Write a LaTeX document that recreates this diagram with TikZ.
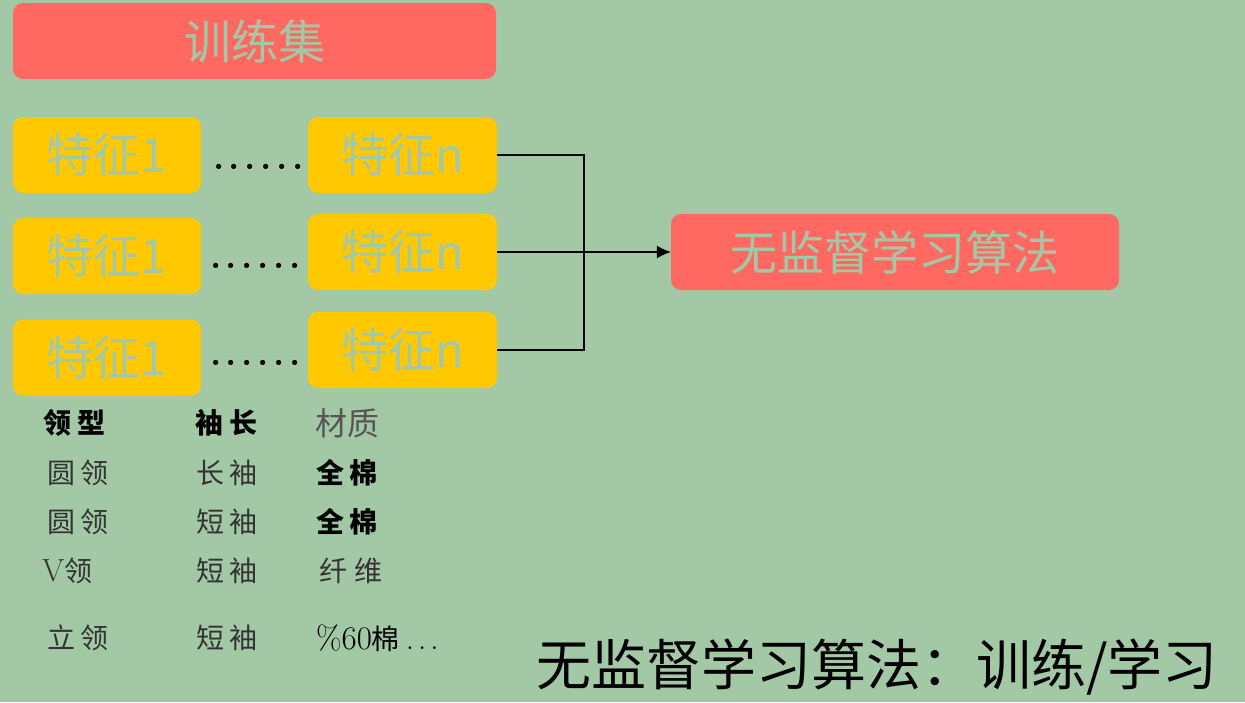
\documentclass[tikz,border=0pt]{standalone}
\usepackage{fontspec}
\usepackage{xcolor}
\usepackage{tikz}
\usetikzlibrary{positioning,arrows.meta}
\newfontfamily\cjk{Noto Sans CJK SC}
\definecolor{bggreen}{RGB}{163,200,166}
\definecolor{boxred}{RGB}{255,105,97}
\definecolor{boxyellow}{RGB}{255,200,0}
\definecolor{txtgrey}{RGB}{51,51,51}
\definecolor{headgrey}{RGB}{85,85,85}
\newcommand\featdots{.\kern4.5pt.\kern4.5pt.\kern4.5pt.\kern4.5pt.\kern4.5pt.}
\newcommand\celldots{.\kern4pt.\kern4pt.}
\tikzset{
  redbox/.style={fill=boxred, rounded corners=10pt, inner sep=0pt, minimum height=76pt,
    text=bggreen, font=\cjk\fontsize{47}{47}\selectfont},
  featbox/.style={fill=boxyellow, rounded corners=10pt, inner sep=0pt, minimum width=188pt,
    minimum height=76pt, text=bggreen, font=\cjk\fontsize{47}{47}\selectfont},
  dotrow/.style={font=\bfseries\fontsize{36}{36}\selectfont, inner sep=0pt, anchor=base west},
  cell/.style={font=\cjk\fontsize{28}{28}\selectfont, text=txtgrey, inner sep=0pt, anchor=west},
  cellbold/.style={cell, text=black, font=\cjk\bfseries\fontsize{28}{28}\selectfont},
}
\begin{document}
\begin{tikzpicture}[>={Latex[length=14pt,width=13pt]}, x=1pt, y=-1pt]
\useasboundingbox[fill=bggreen] (0,0) rectangle (1245,702);

\node[redbox, minimum width=483pt] (train) at (254.5,41) {训练集};

% feature rows
\node[featbox] (fa1) at (107,155) {特征1};
\node[featbox] (fa2) at (107,256) {特征1};
\node[featbox] (fa3) at (107,357.5) {特征1};
\node[featbox, minimum width=189pt] (fn1) at (402.5,155) {特征n};
\node[featbox, minimum width=189pt] (fn2) at (402.5,252) {特征n};
\node[featbox, minimum width=189pt] (fn3) at (402.5,350) {特征n};

\node[dotrow] (d1) at (213,169.5) {\featdots};
\node[dotrow] (d2) at (210,268.5) {\featdots};
\node[dotrow] (d3) at (210,365.5) {\featdots};

\node[redbox, minimum width=448pt] (algo) at (895,252) {无监督学习算法};

% connectors
\coordinate (join) at (584,252);
\draw[line width=1.2pt] (fn1.east) -| (join);
\draw[line width=1.2pt] (fn3.east) -| (join);
\draw[->, line width=1.2pt] (fn2.east) -- (algo.west);

% sample table
\node[cellbold] (h1) at (43,423) {领\hspace{6pt}型};
\node[cellbold] (h2) at (195,423) {袖\hspace{6pt}长};
\node[cell, text=headgrey, font=\cjk\fontsize{32}{32}\selectfont] (h3) at (315,423) {材质};

\node[cell] (r1a) at (47,473) {圆\hspace{5pt}领};
\node[cell] (r1b) at (196,473) {长\hspace{5pt}袖};
\node[cellbold] (r1c) at (316,473) {全\hspace{5pt}棉};

\node[cell] (r2a) at (47,522) {圆\hspace{5pt}领};
\node[cell] (r2b) at (196,522) {短\hspace{5pt}袖};
\node[cellbold] (r2c) at (316,522) {全\hspace{5pt}棉};

\node[cell] (r3a) at (42,571) {\rmfamily\fontsize{32}{32}\selectfont V\cjk\fontsize{28}{28}\selectfont 领};
\node[cell] (r3b) at (196,571) {短\hspace{5pt}袖};
\node[cell] (r3c) at (319,571) {纤\hspace{7pt}维};

\node[cell] (r4a) at (47,638) {立\hspace{5pt}领};
\node[cell] (r4b) at (196,638) {短\hspace{5pt}袖};
\node[cell, text=black] (r4c) at (316,638) {\rmfamily\fontsize{33}{33}\selectfont\%60\cjk\fontsize{28}{28}\selectfont 棉\rmfamily\fontsize{33}{33}\selectfont\kern6pt\celldots};

\node[anchor=west, inner sep=0pt, font=\cjk\fontsize{55}{55}\selectfont] (caption) at (536,667) {无监督学习算法：训练/学习};
\end{tikzpicture}
\end{document}
